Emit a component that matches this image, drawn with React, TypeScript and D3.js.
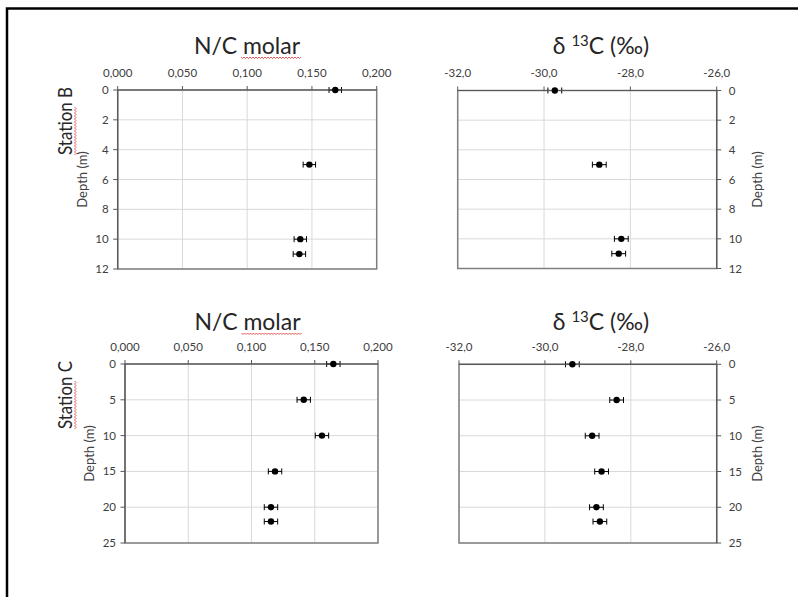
import React from 'react';
import * as d3 from 'd3';

// ---- data ----
const ncTicks = [0, 0.05, 0.1, 0.15, 0.2];
const d13Ticks = [-32, -30, -28, -26];
const depthTicksB = [0, 2, 4, 6, 8, 10, 12];
const depthTicksC = [0, 5, 10, 15, 20, 25];

const depthsB = [0, 5, 10, 11];
const ncB = [0.168, 0.148, 0.141, 0.1403];
const ncBErr = [0.0048, 0.0048, 0.0048, 0.0048];
const d13B = [-29.75, -28.72, -28.21, -28.27];
const d13BErr = [0.16, 0.16, 0.16, 0.16];

const depthsC = [0, 5, 10, 15, 20, 22];
const ncC = [0.1647, 0.1413, 0.1557, 0.1186, 0.1154, 0.1154];
const ncCErr = [0.0053, 0.0053, 0.0053, 0.0053, 0.0053, 0.0053];
const d13C = [-29.36, -28.33, -28.9, -28.68, -28.8, -28.72];
const d13CErr = [0.16, 0.16, 0.16, 0.16, 0.16, 0.16];

const stations = ['Station B', 'Station C'];

const loc = d3.formatLocale({ decimal: ',', thousands: '.', grouping: [3], currency: ['', ''], minus: '-' });
const fmt3 = loc.format('.3f');
const fmt1 = loc.format('.1f');

const FONT = 'Lato, "Open Sans", sans-serif';
const TICK_COLOR = '#404040';
const GRID = '#d9d9d9';

type PanelProps = {
  x0: number; x1: number; y0: number; y1: number;
  xDomain: [number, number]; yDomain: [number, number];
  xTicks: number[]; yTicks: number[];
  xFmt: (v: number) => string;
  side: 'left' | 'right';
  depths: number[]; values: number[]; errs: number[];
  title: 'nc' | 'd13';
  titleX: number;
  titleY: number;
  xLabelY: number;
  depthLabelX: number;
};

function Squiggle({ x0, x1, y }: { x0: number; x1: number; y: number }) {
  const pts: [number, number][] = [];
  const step = 1.5;
  let i = 0;
  for (let x = x0; x <= x1; x += step, i++) pts.push([x, y + (i % 2 === 0 ? 0 : 1.5)]);
  return <path d={d3.line()(pts) || ''} fill="none" stroke="#e03030" strokeWidth={0.8} />;
}

function Panel(p: PanelProps) {
  const xs = d3.scaleLinear().domain(p.xDomain).range([p.x0, p.x1]);
  const ys = d3.scaleLinear().domain(p.yDomain).range([p.y0, p.y1]);
  const axisX = p.side === 'left' ? p.x0 : p.x1;
  const tickDir = p.side === 'left' ? -1 : 1;
  return (
    <g>
      {p.xTicks.map((t, i) => (
        <line key={'gx' + i} x1={xs(t)} x2={xs(t)} y1={p.y0} y2={p.y1} stroke={GRID} strokeWidth={1} />
      ))}
      {p.yTicks.map((t, i) => (
        <line key={'gy' + i} x1={p.x0} x2={p.x1} y1={ys(t)} y2={ys(t)} stroke={GRID} strokeWidth={1} />
      ))}
      <rect x={p.x0} y={p.y0} width={p.x1 - p.x0} height={p.y1 - p.y0} fill="none" stroke="#7f7f7f" strokeWidth={1.5} />
      {p.depths.map((d, i) => {
        const cy = ys(d);
        const a = xs(p.values[i] - p.errs[i]);
        const b = xs(p.values[i] + p.errs[i]);
        return (
          <g key={'pt' + i}>
            <line x1={a} x2={b} y1={cy} y2={cy} stroke="#000" strokeWidth={1} />
            <line x1={a} x2={a} y1={cy - 3} y2={cy + 3} stroke="#000" strokeWidth={1} />
            <line x1={b} x2={b} y1={cy - 3} y2={cy + 3} stroke="#000" strokeWidth={1} />
          </g>
        );
      })}
      <line x1={p.x0} x2={p.x1} y1={p.y0} y2={p.y0} stroke="#595959" strokeWidth={1.2} />
      {p.xTicks.map((t, i) => (
        <line key={'tx' + i} x1={xs(t)} x2={xs(t)} y1={p.y0 - 4} y2={p.y0} stroke="#595959" strokeWidth={1} />
      ))}
      {p.depths.map((d, i) => (
        <circle key={'c' + i} cx={xs(p.values[i])} cy={ys(d)} r={3.2} fill="#000" />
      ))}
      {p.xTicks.map((t, i) => (
        <text key={'lx' + i} x={xs(t)} y={p.xLabelY} textAnchor="middle" fontSize={11.5} fill={TICK_COLOR} fontFamily={FONT}>
          {p.xFmt(t)}
        </text>
      ))}
      <line x1={axisX} x2={axisX} y1={p.y0} y2={p.y1} stroke="#595959" strokeWidth={1.2} />
      {p.yTicks.map((t, i) => (
        <g key={'ty' + i}>
          <line x1={axisX} x2={axisX + tickDir * 4.5} y1={ys(t)} y2={ys(t)} stroke="#595959" strokeWidth={1} />
          <text
            x={axisX + tickDir * (p.side === 'left' ? 9 : 12)}
            y={ys(t)}
            dy="0.35em"
            textAnchor={p.side === 'left' ? 'end' : 'start'}
            fontSize={11.5}
            fill={TICK_COLOR}
            fontFamily={FONT}
          >
            {t}
          </text>
        </g>
      ))}
      <text
        transform={`translate(${p.depthLabelX},${(p.y0 + p.y1) / 2}) rotate(-90)`}
        textAnchor="middle"
        dy="0.35em"
        fontSize={13}
        fill={TICK_COLOR}
        fontFamily={FONT}
      >
        Depth (m)
      </text>
      {p.title === 'nc' ? (
        <g>
          <text x={p.titleX} y={p.titleY} textAnchor="middle" fontSize={23} fill="#262626" fontFamily={FONT}>
            N/C molar
          </text>
          <Squiggle x0={p.titleX - 6} x1={p.titleX + 54} y={p.titleY + 3} />
        </g>
      ) : (
        <text x={p.titleX} y={p.titleY} textAnchor="middle" fontSize={23} fill="#262626" fontFamily={FONT}>
          δ <tspan fontSize={15} dy={-8}>13</tspan>
          <tspan dy={8}>C (‰)</tspan>
        </text>
      )}
    </g>
  );
}

export default function App() {
  return (
    <svg width={798} height={597} style={{ position: 'absolute', left: 0, top: 0, background: '#fff' }}>
      <rect x={0} y={0} width={798} height={597} fill="#fff" />
      <rect x={7} y={8.5} width={820} height={620} fill="none" stroke="#000" strokeWidth={2.5} />
      {stations.map((s, i) => {
        const cy = i === 0 ? 121 : 395;
        return (
          <g key={s} transform={`translate(65,${cy}) rotate(-90)`}>
            <text
              x={-34}
              dy="0.35em"
              fontSize={19}
              textLength={68}
              lengthAdjust="spacingAndGlyphs"
              fill="#262626"
              fontFamily={FONT}
            >
              {s}
            </text>
            <Squiggle x0={-34} x1={15} y={9.5} />
          </g>
        );
      })}
      <Panel
        x0={117.7} x1={376.7} y0={90} y1={269}
        xDomain={[0, 0.2]} yDomain={[0, 12]}
        xTicks={ncTicks} yTicks={depthTicksB} xFmt={fmt3}
        side="left" depths={depthsB} values={ncB} errs={ncBErr}
        title="nc" titleX={247} titleY={54} xLabelY={77} depthLabelX={82}
      />
      <Panel
        x0={457.7} x1={716.7} y0={90.5} y1={268.5}
        xDomain={[-32, -26]} yDomain={[0, 12]}
        xTicks={d13Ticks} yTicks={depthTicksB} xFmt={fmt1}
        side="right" depths={depthsB} values={d13B} errs={d13BErr}
        title="d13" titleX={601} titleY={54} xLabelY={77} depthLabelX={757}
      />
      <Panel
        x0={125} x1={378} y0={364} y1={543}
        xDomain={[0, 0.2]} yDomain={[0, 25]}
        xTicks={ncTicks} yTicks={depthTicksC} xFmt={fmt3}
        side="left" depths={depthsC} values={ncC} errs={ncCErr}
        title="nc" titleX={247.5} titleY={330} xLabelY={351} depthLabelX={89}
      />
      <Panel
        x0={459} x1={716.7} y0={364.3} y1={543}
        xDomain={[-32, -26]} yDomain={[0, 25]}
        xTicks={d13Ticks} yTicks={depthTicksC} xFmt={fmt1}
        side="right" depths={depthsC} values={d13C} errs={d13CErr}
        title="d13" titleX={601} titleY={330} xLabelY={351} depthLabelX={757}
      />
    </svg>
  );
}
